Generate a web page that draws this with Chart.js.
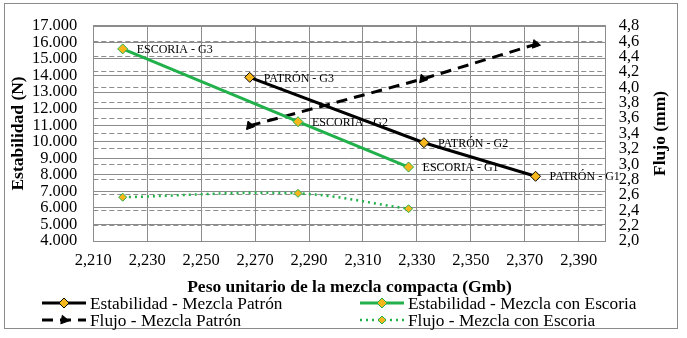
<!DOCTYPE html>
<html>
<head>
<meta charset="utf-8">
<script src="https://cdn.jsdelivr.net/npm/chart.js@4"></script>
<style>
  html, body { margin: 0; padding: 0; background: #fff; }
  #wrap { width: 687px; height: 338px; }
</style>
</head>
<body>
<div id="wrap"><canvas id="chart" width="687" height="338"></canvas></div>
<script>
// Data
const xTicks = [2.21, 2.23, 2.25, 2.27, 2.29, 2.31, 2.33, 2.35, 2.37, 2.39];

const estPatronX = [2.268, 2.3326, 2.374];
const estPatronY = [13890, 9940, 7910];
const estPatronLabels = ['PATRÓN - G3', 'PATRÓN - G2', 'PATRÓN - G1'];

const estEscoriaX = [2.2209, 2.2859, 2.3269];
const estEscoriaY = [15610, 11210, 8470];
const estEscoriaLabels = ['ESCORIA - G3', 'ESCORIA - G2', 'ESCORIA - G1'];

const flujoPatronX = [2.268, 2.3322, 2.374];
const flujoPatronY = [3.50, 4.11, 4.56];

const flujoEscoriaX = [2.2209, 2.2859, 2.3269];
const flujoEscoriaY = [2.57, 2.62, 2.42];

const SERIF = '"Liberation Serif", "Times New Roman", serif';
const GREEN = '#22b04b';
const YELLOW = '#f5b71c';
const GRID = '#8c8c8c';
const TICK_SIZE = 16.5;

const pts = (xs, ys) => xs.map((x, i) => ({ x: x, y: ys[i] }));

// Frame, axis titles, point labels and legend
const decorations = {
    id: 'decorations',
    beforeDatasetsDraw(chart) {
        const { ctx, chartArea: a } = chart;
        ctx.save();
        ctx.strokeStyle = GRID;
        ctx.lineWidth = 1;
        ctx.strokeRect(Math.round(a.left) + 0.5, Math.round(a.top) + 0.5,
            Math.round(a.right - a.left), Math.round(a.bottom - a.top));
        ctx.restore();
    },
    afterDraw(chart) {
        const { ctx, chartArea: a, scales } = chart;
        ctx.save();

        // outer border
        ctx.strokeStyle = '#8a8a8a';
        ctx.lineWidth = 1;
        ctx.strokeRect(4.5, 3.5, 673, 325);

        // axis titles
        ctx.fillStyle = '#000';
        ctx.font = 'bold 17.5px ' + SERIF;
        ctx.textAlign = 'center';
        ctx.textBaseline = 'middle';
        ctx.fillText('Peso unitario de la mezcla compacta (Gmb)', (a.left + a.right) / 2, 287);

        const midY = (a.top + a.bottom) / 2;
        [['Estabilidad (N)', 18], ['Flujo (mm)', 660]].forEach(([t, x]) => {
            ctx.save();
            ctx.translate(x, midY);
            ctx.rotate(-Math.PI / 2);
            ctx.fillText(t, 0, 0);
            ctx.restore();
        });

        // point labels
        ctx.font = '12px ' + SERIF;
        ctx.textAlign = 'left';
        const lab = (xs, ys, labels) => xs.forEach((x, i) => {
            ctx.fillText(labels[i], scales.x.getPixelForValue(x) + 14, scales.y.getPixelForValue(ys[i]) + 1);
        });
        lab(estPatronX, estPatronY, estPatronLabels);
        lab(estEscoriaX, estEscoriaY, estEscoriaLabels);

        // legend
        const items = [
            { text: 'Estabilidad - Mezcla Patrón', x: 42, y: 303, ds: 0 },
            { text: 'Estabilidad - Mezcla con Escoria', x: 360, y: 303, ds: 1 },
            { text: 'Flujo - Mezcla Patrón', x: 42, y: 320, ds: 2 },
            { text: 'Flujo - Mezcla con Escoria', x: 360, y: 320, ds: 3 }
        ];
        ctx.font = '17.3px ' + SERIF;
        items.forEach(it => {
            const d = chart.data.datasets[it.ds];
            ctx.save();
            ctx.strokeStyle = d.borderColor;
            ctx.lineWidth = d.borderWidth;
            ctx.setLineDash(d.borderDash || []);
            ctx.beginPath();
            ctx.moveTo(it.x, it.y);
            ctx.lineTo(it.x + 44, it.y);
            ctx.stroke();
            ctx.restore();
            ctx.save();
            ctx.fillStyle = d.pointBackgroundColor;
            ctx.strokeStyle = d.pointBorderColor;
            ctx.lineWidth = 1;
            Chart.helpers.drawPoint(ctx, {
                pointStyle: d.pointStyle, radius: d.pointRadius, rotation: d.pointRotation || 0,
                borderWidth: 1
            }, it.x + 22, it.y);
            ctx.restore();
            ctx.fillStyle = '#000';
            ctx.textAlign = 'left';
            ctx.fillText(it.text, it.x + 48, it.y + 1);
        });
        ctx.restore();
    }
};

new Chart(document.getElementById('chart'), {
    type: 'line',
    data: {
        datasets: [
            {
                label: 'Estabilidad - Mezcla Patrón',
                data: pts(estPatronX, estPatronY),
                yAxisID: 'y',
                borderColor: '#000',
                borderWidth: 3,
                pointStyle: 'rectRot',
                pointRadius: 5,
                pointBackgroundColor: YELLOW,
                pointBorderColor: '#000',
                pointBorderWidth: 1,
                tension: 0
            },
            {
                label: 'Estabilidad - Mezcla con Escoria',
                data: pts(estEscoriaX, estEscoriaY),
                yAxisID: 'y',
                borderColor: GREEN,
                borderWidth: 3,
                pointStyle: 'rectRot',
                pointRadius: 5,
                pointBackgroundColor: YELLOW,
                pointBorderColor: GREEN,
                pointBorderWidth: 1,
                tension: 0
            },
            {
                label: 'Flujo - Mezcla Patrón',
                data: pts(flujoPatronX, flujoPatronY),
                yAxisID: 'y1',
                borderColor: '#000',
                borderWidth: 3,
                borderDash: [11, 7],
                pointStyle: 'triangle',
                pointRadius: 5,
                pointRotation: -20,
                pointBackgroundColor: '#000',
                pointBorderColor: '#000',
                pointBorderWidth: 1,
                tension: 0
            },
            {
                label: 'Flujo - Mezcla con Escoria',
                data: pts(flujoEscoriaX, flujoEscoriaY),
                yAxisID: 'y1',
                borderColor: GREEN,
                borderWidth: 2.5,
                borderDash: [2, 4],
                pointStyle: 'rectRot',
                pointRadius: 4,
                pointBackgroundColor: YELLOW,
                pointBorderColor: GREEN,
                pointBorderWidth: 1,
                tension: 0.35
            }
        ]
    },
    options: {
        responsive: false,
        animation: false,
        devicePixelRatio: 1,
        layout: { padding: { top: 14, left: 0, right: 0, bottom: 0 } },
        plugins: {
            legend: { display: false },
            tooltip: { enabled: false }
        },
        scales: {
            x: {
                type: 'linear',
                min: 2.21,
                max: 2.40,
                afterBuildTicks: s => { s.ticks = xTicks.map(v => ({ value: v })); },
                afterFit: s => { s.height = 97; },
                grid: { color: GRID, drawTicks: false },
                border: { display: false },
                ticks: {
                    autoSkip: false,
                    maxRotation: 0,
                    padding: 10,
                    color: '#000',
                    font: { family: SERIF, size: TICK_SIZE },
                    callback: v => v.toFixed(3).replace('.', ',')
                }
            },
            y: {
                position: 'left',
                min: 4000,
                max: 17000,
                afterFit: s => { s.width = 93.3; },
                grid: { color: GRID, drawTicks: false },
                border: { display: false },
                ticks: {
                    autoSkip: false,
                    stepSize: 1000,
                    padding: 16,
                    color: '#000',
                    font: { family: SERIF, size: TICK_SIZE },
                    callback: v => (v / 1000) + '.000'
                }
            },
            y1: {
                position: 'right',
                min: 2.0,
                max: 4.8,
                afterFit: s => { s.width = 81.3; },
                grid: { color: GRID, drawTicks: false },
                border: { display: false, dash: [5, 3] },
                ticks: {
                    autoSkip: false,
                    stepSize: 0.2,
                    padding: 13,
                    color: '#000',
                    font: { family: SERIF, size: TICK_SIZE },
                    callback: v => v.toFixed(1).replace('.', ',')
                }
            }
        }
    },
    plugins: [decorations]
});
</script>
</body>
</html>
